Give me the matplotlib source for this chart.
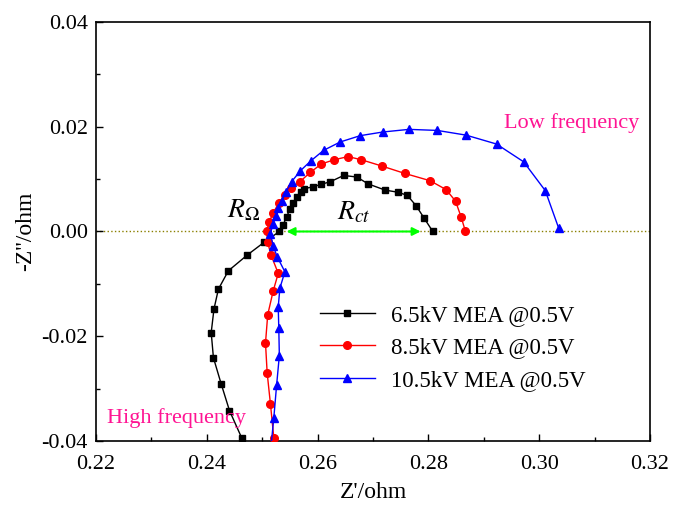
import matplotlib
matplotlib.use("Agg")
import matplotlib.pyplot as plt
from matplotlib.ticker import MultipleLocator, FormatStrFormatter

plt.rcParams['font.family'] = ['Liberation Serif', 'DejaVu Serif']
plt.rcParams['mathtext.fontset'] = 'stix'

# 6.5kV MEA @0.5V (high frequency -> low frequency)
x65 = [0.2463, 0.2441, 0.2426, 0.2412, 0.2408, 0.2413, 0.2421, 0.2439, 0.2473, 0.2503,
       0.2531, 0.2538, 0.2544, 0.2550, 0.2556, 0.2562, 0.2570, 0.2576, 0.2591, 0.2606,
       0.2623, 0.2647, 0.2671, 0.2691, 0.2722, 0.2745, 0.2762, 0.2778, 0.2792, 0.2808]
y65 = [-0.0394, -0.0342, -0.0291, -0.0241, -0.0193, -0.0148, -0.0110, -0.0075, -0.0045, -0.0021,
       0.0000, 0.0013, 0.0028, 0.0042, 0.0054, 0.0066, 0.0075, 0.0082, 0.0085, 0.0090,
       0.0095, 0.0107, 0.0104, 0.0091, 0.0079, 0.0075, 0.0069, 0.0049, 0.0026, 0.0000]

# 8.5kV MEA @0.5V
x85 = [0.2521, 0.2515, 0.2509, 0.2506, 0.2510, 0.2520, 0.2529, 0.2516, 0.2510, 0.2508,
       0.2513, 0.2520, 0.2530, 0.2541, 0.2552, 0.2568, 0.2587, 0.2607, 0.2630, 0.2655,
       0.2679, 0.2716, 0.2757, 0.2803, 0.2832, 0.2849, 0.2859, 0.2867]
y85 = [-0.0394, -0.0330, -0.0270, -0.0213, -0.0159, -0.0113, -0.0080, -0.0045, -0.0021, 0.0001,
       0.0019, 0.0036, 0.0054, 0.0070, 0.0083, 0.0095, 0.0113, 0.0129, 0.0137, 0.0143,
       0.0137, 0.0125, 0.0111, 0.0097, 0.0080, 0.0058, 0.0028, 0.0000]

# 10.5kV MEA @0.5V
x105 = [0.2515, 0.2521, 0.2526, 0.2531, 0.2530, 0.2529, 0.2532, 0.2541, 0.2527, 0.2520,
        0.2515, 0.2519, 0.2525, 0.2529, 0.2535, 0.2543, 0.2553, 0.2569, 0.2588, 0.2611,
        0.2641, 0.2677, 0.2718, 0.2765, 0.2816, 0.2868, 0.2923, 0.2972, 0.3011, 0.3035]
y105 = [-0.0420, -0.0356, -0.0294, -0.0237, -0.0185, -0.0144, -0.0108, -0.0077, -0.0048, -0.0028,
        -0.0005, 0.0014, 0.0029, 0.0044, 0.0058, 0.0075, 0.0095, 0.0116, 0.0135, 0.0155,
        0.0171, 0.0183, 0.0190, 0.0195, 0.0193, 0.0184, 0.0167, 0.0133, 0.0078, 0.0007]

labels = ['6.5kV MEA @0.5V', '8.5kV MEA @0.5V', '10.5kV MEA @0.5V']

fig = plt.figure(figsize=(6.73, 5.07), dpi=100)
ax = fig.add_axes([0.1426, 0.1302, 0.8232, 0.8264])

ax.axhline(0, color='#8B8000', ls=':', lw=1.0, zorder=1)

ax.plot(x65, y65, '-s', color='black', ms=5, lw=1.0, label=labels[0], zorder=3)
ax.plot(x85, y85, '-o', color='red', ms=5.5, lw=1.0, label=labels[1], zorder=3)
ax.plot(x105, y105, '-^', color='blue', ms=6, lw=1.0, label=labels[2], zorder=3)

ax.annotate('', xy=(0.2544, 0.0), xytext=(0.2786, 0.0),
            arrowprops=dict(arrowstyle='<|-|>', color='#00FF00', lw=1.5,
                            mutation_scale=12, shrinkA=0, shrinkB=0), zorder=2)

ax.text(0.2466, 0.0040, r'$R_{\mathit{\Omega}}$', fontsize=20, ha='center', va='center')
ax.text(0.2666, 0.0037, r'$R_{ct}$', fontsize=20, ha='center', va='center')

ax.text(0.3058, 0.0207, 'Low frequency', color='#FF1493', fontsize=16, ha='center', va='center')
ax.text(0.2345, -0.0356, 'High frequency', color='#FF1493', fontsize=16, ha='center', va='center')

ax.set_xlim(0.22, 0.32)
ax.set_ylim(-0.04, 0.04)
ax.xaxis.set_major_locator(MultipleLocator(0.02))
ax.xaxis.set_minor_locator(MultipleLocator(0.01))
ax.yaxis.set_major_locator(MultipleLocator(0.02))
ax.yaxis.set_minor_locator(MultipleLocator(0.01))
ax.xaxis.set_major_formatter(FormatStrFormatter('%.2f'))
ax.yaxis.set_major_formatter(FormatStrFormatter('%.2f'))
ax.tick_params(which='both', direction='in', labelsize=16, top=False, right=False)
ax.tick_params(which='major', length=5, width=1)
ax.tick_params(which='minor', length=3, width=1)
ax.tick_params(axis='x', which='major', pad=10)
ax.tick_params(axis='y', which='major', pad=6)
for s in ax.spines.values():
    s.set_linewidth(1.2)

ax.set_xlabel("Z'/ohm", fontsize=17, labelpad=6)
ax.set_ylabel("-Z''/ohm", fontsize=17, labelpad=4)

leg = ax.legend(loc='upper left', bbox_to_anchor=(0.404, 0.325), frameon=False, fontsize=16.5,
                borderpad=0, borderaxespad=0,
                handlelength=2.4, labelspacing=0.5, handletextpad=0.7)

fig.savefig('out.png', dpi=100)
